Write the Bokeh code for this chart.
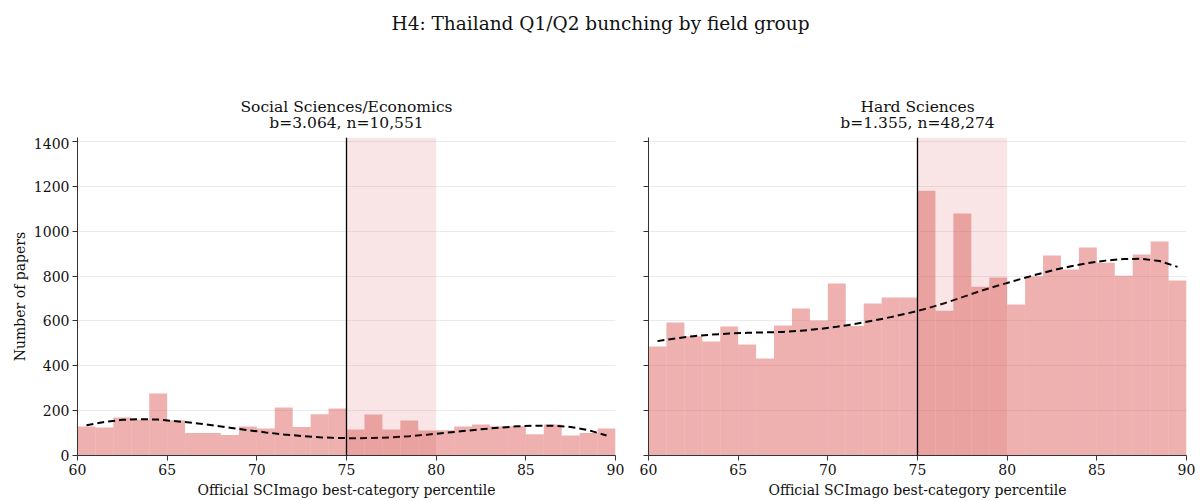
from bokeh.plotting import figure
from bokeh.layouts import column, row
from bokeh.models import BoxAnnotation, Span, FixedTicker, Range1d
from bokeh.core.properties import value
from bokeh.embed import file_html
from bokeh.resources import INLINE

# Percentile bins (1-point wide) from 60 to 90
bin_edges = list(range(60, 91))
bin_centers = [e + 0.5 for e in range(60, 90)]

# Paper counts per bin
social_counts = [129, 125, 169, 160, 277, 157, 100, 100, 91, 129,
                 120, 214, 127, 184, 210, 116, 183, 116, 156, 111,
                 113, 129, 138, 130, 130, 95, 138, 89, 100, 120]
hard_counts = [486, 593, 532, 508, 575, 495, 432, 580, 655, 602,
               767, 577, 678, 704, 704, 1181, 646, 1079, 753, 794,
               673, 799, 892, 829, 927, 860, 802, 896, 954, 780]

# Smooth counterfactual fit evaluated at bin centres
social_fit = [135, 150, 159, 162, 160, 153, 145, 135, 124, 113,
              103, 94, 87, 81, 78, 77, 78, 81, 86, 93,
              101, 109, 117, 124, 130, 133, 133, 127, 113, 89]
hard_fit = [510, 522, 532, 539, 544, 547, 549, 551, 556, 564,
            574, 586, 601, 617, 635, 655, 679, 706, 733, 758,
            781, 804, 825, 843, 858, 869, 876, 877, 867, 841]

main_title = "H4: Thailand Q1/Q2 bunching by field group"
panel_titles = ["Social Sciences/Economics", "Hard Sciences"]
panel_stats = ["b=3.064, n=10,551", "b=1.355, n=48,274"]

threshold = 75
window = (75, 80)
y_max = 1418
x_ticks = [60, 65, 70, 75, 80, 85, 90]
y_ticks = [0, 200, 400, 600, 800, 1000, 1200, 1400]

FONT = "DejaVu Serif"
BAR = "#d9534f"
INK = "#111111"

# Page geometry (pixels)
W, HEADER_H = 1200, 137
FRAME_W, FRAME_H = 538, 318
LEFT_PAD, GAP_L, GAP_R, RIGHT_PAD, BOTTOM_PAD = 77, 15, 18, 14, 46


def make_panel(counts, fit, first):
    p = figure(
        frame_width=FRAME_W, frame_height=FRAME_H,
        min_border_left=LEFT_PAD if first else GAP_R,
        min_border_right=GAP_L if first else RIGHT_PAD,
        min_border_top=0, min_border_bottom=BOTTOM_PAD,
        x_range=Range1d(60, 90), y_range=Range1d(0, y_max),
        output_backend="svg", toolbar_location=None,
    )
    p.quad(left=bin_edges[:-1], right=bin_edges[1:], bottom=0, top=counts,
           fill_color=BAR, fill_alpha=0.45, line_color=None)
    p.add_layout(BoxAnnotation(left=window[0], right=window[1],
                               fill_color=BAR, fill_alpha=0.15,
                               line_color=None, level="glyph"))
    p.add_layout(Span(location=threshold, dimension="height",
                      line_color="black", line_width=1.3))
    p.line(bin_centers, fit, line_color="black", line_width=2,
           line_dash="7 4")

    p.outline_line_color = None
    p.xgrid.grid_line_color = None
    p.ygrid.grid_line_color = "#ebebeb"
    p.ygrid.ticker = FixedTicker(ticks=y_ticks)

    p.xaxis.ticker = FixedTicker(ticks=x_ticks)
    p.yaxis.ticker = FixedTicker(ticks=y_ticks)
    for ax in (p.xaxis, p.yaxis):
        ax.axis_line_color = "#333333"
        ax.major_tick_line_color = "#333333"
        ax.major_tick_out = 5
        ax.major_tick_in = 0
        ax.minor_tick_line_color = None
        ax.major_label_standoff = 3
        ax.major_label_text_font = FONT
        ax.major_label_text_font_size = "14px"
        ax.major_label_text_color = INK
        ax.axis_label_text_font = FONT
        ax.axis_label_text_font_size = "14px"
        ax.axis_label_text_font_style = "normal"
        ax.axis_label_text_color = INK
    p.xaxis.axis_label = "Official SCImago best-category percentile"
    p.xaxis.axis_label_standoff = 4
    if first:
        p.yaxis.axis_label = "Number of papers"
        p.yaxis.axis_label_standoff = 3
    else:
        p.yaxis.major_label_overrides = {t: "" for t in y_ticks}
    return p


left = make_panel(social_counts, social_fit, True)
right = make_panel(hard_counts, hard_fit, False)

# Header strip in pixel coordinates (y grows downward) holding the titles
header = figure(width=W, height=HEADER_H, x_range=Range1d(0, W),
                y_range=Range1d(HEADER_H, 0),
                output_backend="svg", toolbar_location=None, min_border=0)
header.axis.visible = False
header.grid.visible = False
header.outline_line_color = None

left_center = LEFT_PAD + FRAME_W / 2
right_center = LEFT_PAD + FRAME_W + GAP_L + GAP_R + FRAME_W / 2

header.text(x=[W / 2], y=[23], text=[main_title],
            text_font=value(FONT), text_font_size="18.5px",
            text_align="center", text_baseline="alphabetic", text_color=INK)
header.text(x=[left_center, right_center], y=[106, 106], text=panel_titles,
            text_font=value(FONT), text_font_size="15.5px",
            text_align="center", text_baseline="alphabetic", text_color=INK)
header.text(x=[left_center, right_center], y=[122, 122], text=panel_stats,
            text_font=value(FONT), text_font_size="15.5px",
            text_align="center", text_baseline="alphabetic", text_color=INK)

layout = column(header, row(left, right))
open("out.html", "w").write(file_html(layout, INLINE))
